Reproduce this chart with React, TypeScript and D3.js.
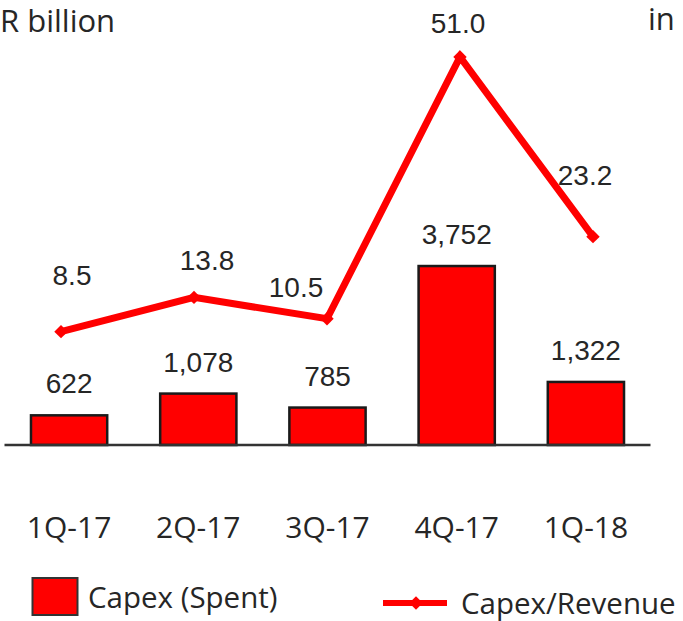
import React from "react";
import * as d3 from "d3";

const categories = ["1Q-17", "2Q-17", "3Q-17", "4Q-17", "1Q-18"];
const capexSpent = [622, 1078, 785, 3752, 1322];
const capexSpentLabels = ["622", "1,078", "785", "3,752", "1,322"];
const capexRevenue = [8.5, 13.8, 10.5, 51.0, 23.2];
const capexRevenueLabels = ["8.5", "13.8", "10.5", "51.0", "23.2"];
const legendLabels = ["Capex (Spent)", "Capex/Revenue"];
const unitLeft = "R billion";
const unitRight = "in";

// label placement offsets (style, relative to each point)
const lineLabelOffsets: [number, number][] = [
  [11, -47],
  [13, -27],
  [-31, -22],
  [-2, -24],
  [-8, -52],
];

const W = 683;
const H = 621;
const BASE = 445;
const RED = "#ff0000";
const TEXT = "#262626";
const NUMFONT = "'Liberation Sans', Arial, sans-serif";
const UIFONT = "'Open Sans', 'Noto Sans', sans-serif";

export default function App() {
  const xBand = d3
    .scaleBand<string>()
    .domain(categories)
    .range([4.5, 650.5])
    .paddingInner(0.41)
    .paddingOuter(0.205);
  const yBar = d3.scaleLinear().domain([0, 4000]).range([BASE, 254.2]);

  const xLine = d3.scalePoint<string>().domain(categories).range([61, 593]);
  const yLine = d3.scaleLinear().domain([0, 60]).range([386.6, -1.2]);

  const lineGen = d3
    .line<number>()
    .x((_, i) => xLine(categories[i])!)
    .y((d) => yLine(d));

  const diamond = d3.symbol(d3.symbolSquare, 90)()!;

  return (
    <svg
      width={W}
      height={H}
      style={{ position: "absolute", left: 0, top: 0, display: "block", background: "#fff" }}
    >
      <text x={0} y={32} fontFamily={UIFONT} fontSize={31} fill={TEXT}>
        {unitLeft}
      </text>
      <text x={648} y={30} fontFamily={UIFONT} fontSize={31} fill={TEXT}>
        {unitRight}
      </text>

      {capexSpent.map((v, i) => (
        <rect
          key={"b" + i}
          x={xBand(categories[i])!}
          y={yBar(v)}
          width={xBand.bandwidth()}
          height={BASE - yBar(v)}
          fill={RED}
          stroke="#1a1a1a"
          strokeWidth={2.5}
        />
      ))}
      <line x1={4.5} x2={650.5} y1={BASE} y2={BASE} stroke="#333" strokeWidth={2.5} />

      {capexSpent.map((v, i) => (
        <text
          key={"bl" + i}
          x={xBand(categories[i])! + xBand.bandwidth() / 2}
          y={yBar(v) - 22}
          textAnchor="middle"
          fontFamily={NUMFONT}
          fontSize={28}
          fill={TEXT}
        >
          {capexSpentLabels[i]}
        </text>
      ))}

      <path d={lineGen(capexRevenue)!} fill="none" stroke={RED} strokeWidth={7} strokeLinejoin="miter" />
      {capexRevenue.map((v, i) => (
        <path
          key={"m" + i}
          d={diamond}
          transform={`translate(${xLine(categories[i])},${yLine(v)}) rotate(45)`}
          fill={RED}
        />
      ))}
      {capexRevenue.map((v, i) => (
        <text
          key={"ll" + i}
          x={xLine(categories[i])! + lineLabelOffsets[i][0]}
          y={yLine(v) + lineLabelOffsets[i][1]}
          textAnchor="middle"
          fontFamily={NUMFONT}
          fontSize={28}
          fill={TEXT}
        >
          {capexRevenueLabels[i]}
        </text>
      ))}

      {categories.map((c) => (
        <text
          key={"c" + c}
          x={xBand(c)! + xBand.bandwidth() / 2}
          y={538}
          textAnchor="middle"
          fontFamily={UIFONT}
          fontSize={30}
          fill={TEXT}
        >
          {c}
        </text>
      ))}

      <rect x={32.5} y={578} width={45} height={37} fill={RED} stroke="#333" strokeWidth={2} />
      <text x={88} y={608} fontFamily={UIFONT} fontSize={29.5} fill={TEXT}>
        {legendLabels[0]}
      </text>
      <line x1={383} x2={447} y1={603} y2={603} stroke={RED} strokeWidth={6} />
      <path d={diamond} transform="translate(416,603) rotate(45)" fill={RED} />
      <text x={461} y={614} fontFamily={UIFONT} fontSize={29.5} fill={TEXT}>
        {legendLabels[1]}
      </text>
    </svg>
  );
}
